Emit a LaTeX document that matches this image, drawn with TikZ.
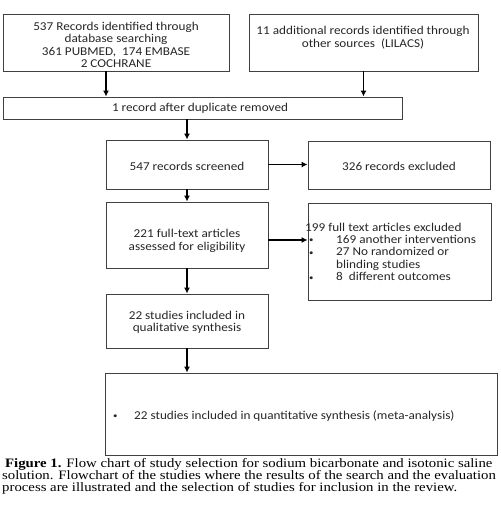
\documentclass[tikz,border=0pt]{standalone}
\usepackage{fontspec}
\setmainfont{Carlito}[FakeStretch=1.1]
\newfontfamily\capfont{Liberation Serif}[FakeStretch=1.15]
\usetikzlibrary{arrows.meta}
\newcommand{\smbul}{{\fontsize{8}{8}\selectfont\raisebox{0.5pt}{\textbullet}}}
\begin{document}
\begin{tikzpicture}[x=1pt,y=-1pt,
  box/.style={draw=black!75, line width=0.9pt, inner sep=0pt},
  txt/.style={font=\fontsize{12}{12.4}\selectfont, align=center, inner sep=0pt, text=black!85},
  arr/.style={line width=1.4pt, -{Latex[length=6pt,width=6pt]}},
  capline/.style={font=\capfont\fontsize{12.85}{12}\selectfont, anchor=base west, inner sep=0pt}]
\useasboundingbox (0,0) rectangle (500,510);
% boxes
\node[box, minimum width=226pt, minimum height=57pt] (b1) at (116,42.5) {};
\node[box, minimum width=229pt, minimum height=57pt] (b2) at (363.5,42.5) {};
\node[box, minimum width=399pt, minimum height=22pt] (dup) at (202.5,108) {};
\node[box, minimum width=162pt, minimum height=49pt] (scr) at (187,164.5) {};
\node[box, minimum width=182pt, minimum height=48pt] (exc) at (399,165) {};
\node[box, minimum width=162pt, minimum height=66pt] (ft) at (187,235) {};
\node[box, minimum width=183pt, minimum height=97pt] (exc2) at (399.5,251.5) {};
\node[box, minimum width=162pt, minimum height=54pt] (qual) at (187,321) {};
\node[box, minimum width=392pt, minimum height=82pt] (quant) at (301,414) {};
% texts
\node[txt] at (116,45) {537 Records identified through\\database searching\\361 PUBMED,\ \ 174 EMBASE\\2 COCHRANE};
\node[txt] at (363,37.5) {11 additional records identified through\\other sources\ \ (LILACS)};
\node[txt] at (200,108.5) {1 record after duplicate removed};
\node[txt] at (187,166) {547 records screened};
\node[txt] at (399,166) {326 records excluded};
\node[txt] at (187,241) {221 full-text articles\\assessed for eligibility};
\node[txt, align=left, anchor=north west] at (305,222.5) {199 full text articles excluded\\
\makebox[31pt][l]{\hspace{4pt}\smbul}169 another interventions\\
\makebox[31pt][l]{\hspace{4pt}\smbul}27 No randomized or\\
\hspace{31pt}blinding studies\\
\makebox[31pt][l]{\hspace{4pt}\smbul}8\ \ different outcomes};
\node[txt] at (187,322.5) {22 studies included in\\qualitative synthesis};
\node[txt, anchor=west] at (113,416) {\makebox[21pt][l]{\smbul}22 studies included in quantitative synthesis (meta-analysis)};
% arrows
\draw[arr] (b1.south -| 106,0) -- (dup.north -| 106,0);
\draw[arr] (b2.south) -- (dup.north -| b2.south);
\draw[arr] (dup.south -| scr.north) -- (scr.north);
\draw[arr] (scr.east) -- (exc.west |- scr.east);
\draw[arr] (scr.south) -- (ft.north);
\draw[arr] (ft.east |- 0,240) -- (exc2.west |- 0,240);
\draw[arr] (ft.south) -- (qual.north);
\draw[arr] (qual.south) -- (quant.north -| qual.south);
% caption
\node[capline] at (5,467) {\textbf{Figure 1.} Flow chart of study selection for sodium bicarbonate and isotonic saline};
\node[capline] at (2,479) {solution. Flowchart of the studies where the results of the search and the evaluation};
\node[capline] at (2,491) {process are illustrated and the selection of studies for inclusion in the review.};
\end{tikzpicture}
\end{document}
